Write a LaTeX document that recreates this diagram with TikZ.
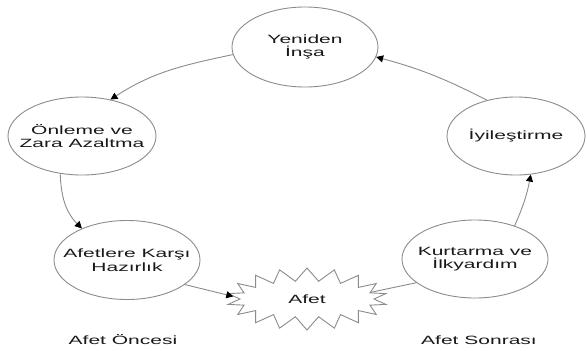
\documentclass[tikz,border=0pt]{standalone}
\usepackage{fontspec}
\newfontfamily\dfont[FakeStretch=1.75]{Liberation Sans}
\usetikzlibrary{shapes.geometric,shapes.symbols,arrows.meta}
\begin{document}
\begin{tikzpicture}[x=1pt,y=1pt,
  txt/.style={font=\dfont\fontsize{12}{13.5}\selectfont, text=black!90, align=center},
  stage/.style={ellipse, draw=black!45, line width=0.9pt, fill=white, inner sep=0pt},
  conn/.style={draw=black!45, line width=0.9pt},
  arr/.style={conn, -{Triangle[length=7pt,width=7pt,color=black]}}
]
\useasboundingbox (0,0) rectangle (587,-351);
\fill[white] (0,0) rectangle (587,-351);

\node[stage, minimum width=146pt, minimum height=80pt,
  label={[txt]center:Yeniden\\İnşa}] (yen) at (305,-47) {};
\node[stage, minimum width=148pt, minimum height=78pt,
  label={[txt]center:Önleme ve\\Zara Azaltma}] (onl) at (82,-136) {};
\node[stage, minimum width=146pt, minimum height=79pt,
  label={[txt]center:Afetlere Karşı\\Hazırlık}] (haz) at (127,-260) {};
\node[stage, minimum width=138pt, minimum height=78pt,
  label={[txt]center:İyileştirme}] (iyi) at (516,-136) {};
\node[stage, minimum width=146pt, minimum height=78pt,
  label={[txt]center:Kurtarma ve\\İlkyardım}] (kur) at (475,-259) {};
\node[starburst, draw=black!45, line width=0.9pt, fill=white, inner sep=0pt,
  starburst points=18, starburst point height=13pt, random starburst=0,
  minimum width=160pt, minimum height=62pt, txt] (afet) at (307,-299) {Afet};

\node[txt, anchor=base] (pre) at (123,-344) {Afet Öncesi};
\node[txt, anchor=base] (post) at (479,-344) {Afet Sonrası};

\draw[arr] (yen.186) to[out=192,in=33] (onl.52);
\draw[arr] (onl.240) to[out=272,in=135] (haz.145);
\draw[arr] (haz.337) -- (afet.178);
\draw[conn] (afet.6) -- (kur.202);
\draw[arr] (kur.40) to[out=66,in=259] (iyi.291);
\draw[arr] (iyi.129) to[out=153,in=345] (yen.352);
\end{tikzpicture}
\end{document}
